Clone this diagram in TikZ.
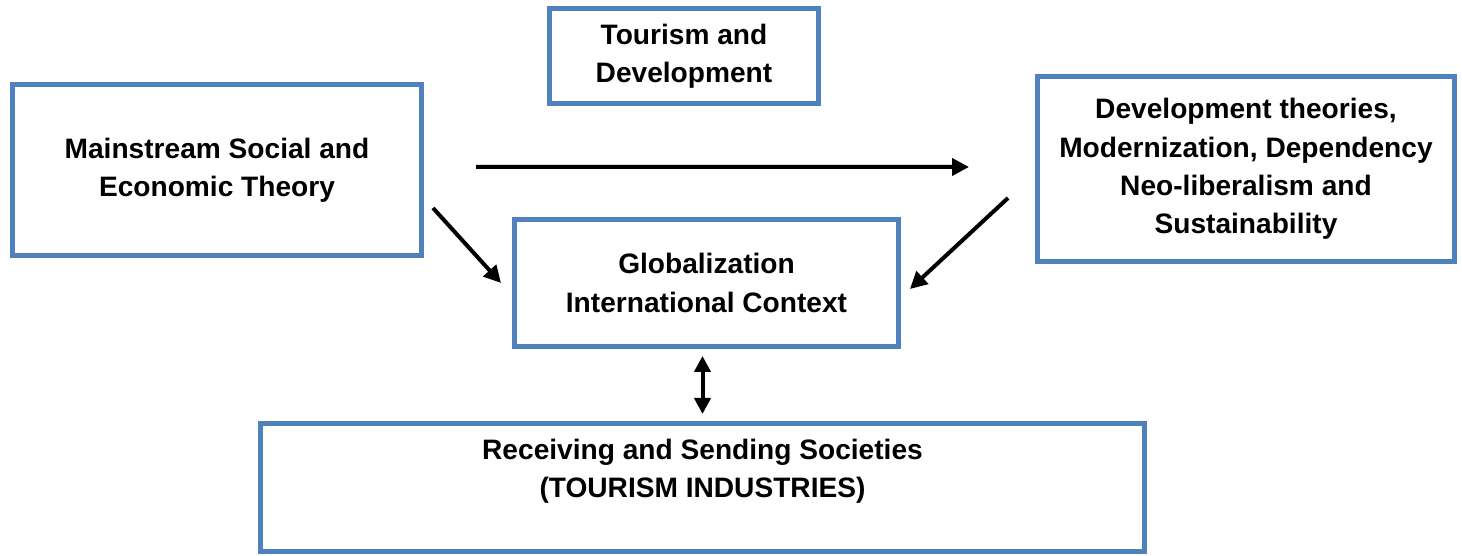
\documentclass[tikz,border=0pt]{standalone}
\usepackage{fontspec}
\setmainfont{Liberation Sans}
\usetikzlibrary{arrows.meta}
\definecolor{boxblue}{HTML}{4F81BD}

\tikzset{
  box/.style={draw=boxblue, line width=0.1cm, fill=white, align=center,
    font=\bfseries\fontsize{16}{21.8}\selectfont, inner sep=0pt},
  arr/.style={line width=0.08cm, -{Triangle[length=0.34cm,width=0.34cm]}},
  dblarr/.style={line width=0.08cm, {Triangle[length=0.32cm,width=0.32cm]}-{Triangle[length=0.32cm,width=0.32cm]}}
}

\begin{document}
\begin{tikzpicture}
\useasboundingbox (0,0) rectangle (29.24,11.12);

\node[box, minimum width=5.38cm, minimum height=1.9cm] (tour) at (13.68,10.0) {Tourism and\\Development}; %top
\node[box, minimum width=8.18cm, minimum height=3.42cm] (main) at (4.34,7.72) {Mainstream Social and\\Economic Theory}; %left
\node[box, minimum width=8.34cm, minimum height=3.7cm] (dev) at (24.92,7.74) {Development theories,\\Modernization, Dependency\\Neo-liberalism and\\Sustainability}; %right
\node[box, minimum width=7.68cm, minimum height=2.54cm] (glob) at (14.13,5.46) {Globalization\\International Context}; %middle
\node[box, minimum width=17.68cm, minimum height=2.56cm] (soc) at (14.05,1.37) {Receiving and Sending Societies\\(TOURISM INDUSTRIES)\\\mbox{}}; %bottom

\draw[arr, shorten <=1.04cm, shorten >=1.32cm] ([yshift=0.06cm]main.east) -- ([yshift=0.04cm]dev.west);
\draw[arr] ([xshift=0.18cm,yshift=-0.76cm]main.east) -- ([xshift=-0.22cm]glob.west);
\draw[arr] ([xshift=-0.54cm,yshift=-0.58cm]dev.west) -- ([xshift=0.18cm,yshift=-0.12cm]glob.east);
\draw[dblarr, shorten <=0.14cm, shorten >=0.14cm] (soc.north |- glob.south) -- (soc.north);

\end{tikzpicture}
\end{document}
